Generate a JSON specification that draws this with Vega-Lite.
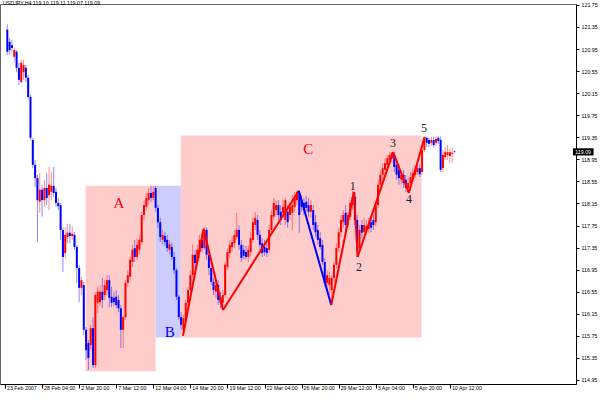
{
  "$schema": "https://vega.github.io/schema/vega-lite/v6.json",
  "width": 576,
  "height": 380,
  "autosize": {"type": "none"},
  "padding": {"left": 0, "top": 4, "right": 24, "bottom": 16},
  "background": "white",
  "title": {"text": "USDJPY,H4 119.10 119.11 119.07 119.09", "anchor": "start", "orient": "top", "frame": "group", "offset": 0, "dy": 7.5, "dx": 3, "baseline": "alphabetic", "fontSize": 5.3, "font": "Liberation Sans", "fontWeight": "normal", "color": "#000"},
  "config": {
    "view": {"stroke": "#666"},
    "axis": {"labelFont": "Liberation Sans", "labelFontSize": 5.3, "labelColor": "#000", "tickColor": "#000", "domainColor": "#000", "grid": false, "labelOverlap": false, "labelFlush": false, "labelBound": false}
  },
  "resolve": {"scale": {"color": "independent"}},
  "datasets": {
    "candles": [
      {"i":1,"o":121.30,"h":121.40,"l":120.84,"c":120.90},
      {"i":2,"o":121.08,"h":121.15,"l":120.84,"c":120.93},
      {"i":3,"o":121.02,"h":121.11,"l":120.90,"c":120.97},
      {"i":4,"o":120.81,"h":120.97,"l":120.72,"c":120.93},
      {"i":5,"o":120.90,"h":120.93,"l":120.53,"c":120.61},
      {"i":6,"o":120.61,"h":120.70,"l":120.30,"c":120.39},
      {"i":7,"o":120.35,"h":120.75,"l":120.35,"c":120.70},
      {"i":8,"o":120.53,"h":120.75,"l":120.39,"c":120.66},
      {"i":9,"o":120.61,"h":120.66,"l":120.35,"c":120.43},
      {"i":10,"o":120.43,"h":120.48,"l":120.04,"c":120.08},
      {"i":11,"o":120.08,"h":120.12,"l":119.30,"c":119.34},
      {"i":12,"o":119.30,"h":119.34,"l":118.79,"c":118.85},
      {"i":13,"o":118.85,"h":118.94,"l":118.45,"c":118.61},
      {"i":14,"o":118.61,"h":118.67,"l":117.45,"c":118.21},
      {"i":15,"o":118.18,"h":118.70,"l":117.98,"c":118.40},
      {"i":16,"o":118.40,"h":118.49,"l":117.91,"c":118.21},
      {"i":17,"o":118.21,"h":118.58,"l":118.09,"c":118.43},
      {"i":18,"o":118.43,"h":118.70,"l":118.12,"c":118.25},
      {"i":19,"o":118.30,"h":118.81,"l":118.03,"c":118.49},
      {"i":20,"o":118.36,"h":118.72,"l":118.21,"c":118.47},
      {"i":21,"o":118.47,"h":118.81,"l":118.27,"c":118.34},
      {"i":22,"o":118.36,"h":118.43,"l":118.09,"c":118.16},
      {"i":23,"o":118.16,"h":118.25,"l":118.03,"c":118.10},
      {"i":24,"o":118.12,"h":118.16,"l":117.49,"c":117.67},
      {"i":25,"o":117.67,"h":117.71,"l":116.91,"c":117.18},
      {"i":26,"o":117.25,"h":117.72,"l":117.16,"c":117.58},
      {"i":27,"o":117.54,"h":117.78,"l":117.43,"c":117.62},
      {"i":28,"o":117.62,"h":117.78,"l":117.43,"c":117.56},
      {"i":29,"o":117.56,"h":117.74,"l":117.49,"c":117.60},
      {"i":30,"o":117.58,"h":117.63,"l":117.31,"c":117.36},
      {"i":31,"o":117.36,"h":117.40,"l":116.71,"c":116.98},
      {"i":32,"o":116.98,"h":117.04,"l":116.36,"c":116.62},
      {"i":33,"o":116.62,"h":116.82,"l":116.49,"c":116.76},
      {"i":34,"o":116.67,"h":116.73,"l":115.77,"c":115.86},
      {"i":35,"o":115.86,"h":115.91,"l":115.31,"c":115.49},
      {"i":36,"o":115.62,"h":115.68,"l":115.13,"c":115.35},
      {"i":37,"o":115.58,"h":115.95,"l":115.49,"c":115.89},
      {"i":38,"o":115.89,"h":116.09,"l":115.17,"c":115.22},
      {"i":39,"o":115.22,"h":116.53,"l":115.17,"c":116.49},
      {"i":40,"o":116.35,"h":116.64,"l":116.16,"c":116.55},
      {"i":41,"o":116.36,"h":116.67,"l":116.29,"c":116.55},
      {"i":42,"o":116.55,"h":116.80,"l":116.25,"c":116.40},
      {"i":43,"o":116.49,"h":116.76,"l":116.40,"c":116.67},
      {"i":44,"o":116.58,"h":116.85,"l":116.49,"c":116.76},
      {"i":45,"o":116.76,"h":116.85,"l":116.27,"c":116.44},
      {"i":46,"o":116.46,"h":116.64,"l":116.27,"c":116.35},
      {"i":47,"o":116.44,"h":116.55,"l":116.29,"c":116.36},
      {"i":48,"o":116.46,"h":116.58,"l":116.25,"c":116.31},
      {"i":49,"o":116.40,"h":116.49,"l":116.18,"c":116.25},
      {"i":50,"o":116.25,"h":116.31,"l":115.53,"c":115.86},
      {"i":51,"o":115.86,"h":116.13,"l":115.53,"c":116.09},
      {"i":52,"o":116.09,"h":116.76,"l":116.04,"c":116.71},
      {"i":53,"o":116.71,"h":116.94,"l":116.64,"c":116.85},
      {"i":54,"o":116.82,"h":117.18,"l":116.76,"c":117.13},
      {"i":55,"o":117.09,"h":117.40,"l":117.00,"c":117.31},
      {"i":56,"o":117.34,"h":117.49,"l":117.09,"c":117.18},
      {"i":57,"o":117.18,"h":117.52,"l":117.13,"c":117.40},
      {"i":58,"o":117.31,"h":117.58,"l":117.22,"c":117.49},
      {"i":59,"o":117.45,"h":118.00,"l":117.40,"c":117.94},
      {"i":60,"o":117.94,"h":118.21,"l":117.85,"c":118.12},
      {"i":61,"o":118.09,"h":118.34,"l":118.03,"c":118.25},
      {"i":62,"o":118.21,"h":118.43,"l":118.12,"c":118.34},
      {"i":63,"o":118.34,"h":118.47,"l":118.18,"c":118.25},
      {"i":64,"o":118.25,"h":118.47,"l":118.21,"c":118.36},
      {"i":65,"o":118.43,"h":118.47,"l":118.00,"c":118.07},
      {"i":66,"o":118.07,"h":118.12,"l":117.71,"c":117.81},
      {"i":67,"o":117.81,"h":117.89,"l":117.45,"c":117.54},
      {"i":68,"o":117.49,"h":117.67,"l":117.41,"c":117.58},
      {"i":69,"o":117.56,"h":117.63,"l":117.38,"c":117.45},
      {"i":70,"o":117.49,"h":117.58,"l":117.27,"c":117.34},
      {"i":71,"o":117.31,"h":117.49,"l":117.23,"c":117.41},
      {"i":72,"o":117.36,"h":117.43,"l":117.13,"c":117.18},
      {"i":73,"o":117.18,"h":117.27,"l":116.87,"c":116.94},
      {"i":74,"o":116.94,"h":116.98,"l":116.40,"c":116.46},
      {"i":75,"o":116.46,"h":116.49,"l":116.04,"c":116.09},
      {"i":76,"o":116.09,"h":116.18,"l":115.86,"c":115.95},
      {"i":77,"o":115.86,"h":116.13,"l":115.75,"c":116.07},
      {"i":78,"o":116.04,"h":116.40,"l":115.95,"c":116.35},
      {"i":79,"o":116.35,"h":116.64,"l":116.25,"c":116.58},
      {"i":80,"o":116.58,"h":116.94,"l":116.53,"c":116.85},
      {"i":81,"o":116.85,"h":117.40,"l":116.80,"c":117.22},
      {"i":82,"o":117.22,"h":117.31,"l":116.98,"c":117.07},
      {"i":83,"o":117.09,"h":117.40,"l":117.04,"c":117.31},
      {"i":84,"o":117.27,"h":117.58,"l":117.16,"c":117.49},
      {"i":85,"o":117.49,"h":117.62,"l":117.27,"c":117.34},
      {"i":86,"o":117.34,"h":117.72,"l":117.31,"c":117.67},
      {"i":87,"o":117.67,"h":117.71,"l":117.13,"c":117.22},
      {"i":88,"o":117.22,"h":117.31,"l":116.85,"c":116.98},
      {"i":89,"o":116.98,"h":117.09,"l":116.67,"c":116.73},
      {"i":90,"o":116.73,"h":116.80,"l":116.49,"c":116.58},
      {"i":91,"o":116.55,"h":116.76,"l":116.44,"c":116.67},
      {"i":92,"o":116.67,"h":116.76,"l":116.31,"c":116.40},
      {"i":93,"o":116.44,"h":116.55,"l":116.25,"c":116.35},
      {"i":94,"o":116.35,"h":116.58,"l":116.22,"c":116.49},
      {"i":95,"o":116.49,"h":117.09,"l":116.44,"c":117.04},
      {"i":96,"o":117.00,"h":117.34,"l":116.94,"c":117.27},
      {"i":97,"o":117.25,"h":117.49,"l":117.16,"c":117.40},
      {"i":98,"o":117.36,"h":117.56,"l":117.27,"c":117.45},
      {"i":99,"o":117.43,"h":117.67,"l":117.34,"c":117.58},
      {"i":100,"o":117.54,"h":117.98,"l":117.49,"c":117.67},
      {"i":101,"o":117.67,"h":117.76,"l":117.31,"c":117.40},
      {"i":102,"o":117.40,"h":117.49,"l":117.09,"c":117.16},
      {"i":103,"o":117.31,"h":117.40,"l":117.13,"c":117.20},
      {"i":104,"o":117.27,"h":117.38,"l":117.13,"c":117.18},
      {"i":105,"o":117.18,"h":117.40,"l":117.09,"c":117.31},
      {"i":106,"o":117.27,"h":117.63,"l":117.20,"c":117.52},
      {"i":107,"o":117.49,"h":117.89,"l":117.43,"c":117.81},
      {"i":108,"o":117.76,"h":118.00,"l":117.67,"c":117.89},
      {"i":109,"o":117.85,"h":117.94,"l":117.49,"c":117.58},
      {"i":110,"o":117.58,"h":117.67,"l":117.31,"c":117.40},
      {"i":111,"o":117.43,"h":117.52,"l":117.18,"c":117.25},
      {"i":112,"o":117.36,"h":117.49,"l":117.20,"c":117.27},
      {"i":113,"o":117.34,"h":117.43,"l":117.18,"c":117.25},
      {"i":114,"o":117.31,"h":117.76,"l":117.25,"c":117.67},
      {"i":115,"o":117.67,"h":118.03,"l":117.62,"c":117.94},
      {"i":116,"o":117.91,"h":118.25,"l":117.85,"c":118.16},
      {"i":117,"o":118.03,"h":118.21,"l":117.94,"c":118.12},
      {"i":118,"o":118.12,"h":118.21,"l":117.85,"c":117.94},
      {"i":119,"o":118.00,"h":118.12,"l":117.76,"c":117.85},
      {"i":120,"o":117.98,"h":118.21,"l":117.89,"c":118.09},
      {"i":121,"o":117.85,"h":118.25,"l":117.76,"c":118.21},
      {"i":122,"o":118.00,"h":118.12,"l":117.71,"c":117.81},
      {"i":123,"o":117.94,"h":118.18,"l":117.85,"c":118.09},
      {"i":124,"o":117.98,"h":118.30,"l":117.67,"c":118.12},
      {"i":125,"o":118.09,"h":118.36,"l":118.00,"c":118.25},
      {"i":126,"o":118.21,"h":118.38,"l":118.12,"c":118.36},
      {"i":127,"o":118.34,"h":118.38,"l":117.62,"c":117.94},
      {"i":128,"o":118.21,"h":118.30,"l":118.00,"c":118.09},
      {"i":129,"o":118.16,"h":118.25,"l":117.94,"c":118.03},
      {"i":130,"o":118.18,"h":118.29,"l":118.00,"c":118.07},
      {"i":131,"o":118.12,"h":118.25,"l":117.91,"c":118.00},
      {"i":132,"o":118.00,"h":118.21,"l":117.89,"c":118.12},
      {"i":133,"o":118.03,"h":118.12,"l":117.67,"c":117.76},
      {"i":134,"o":117.81,"h":117.94,"l":117.54,"c":117.63},
      {"i":135,"o":117.67,"h":117.76,"l":117.40,"c":117.49},
      {"i":136,"o":117.52,"h":117.63,"l":117.31,"c":117.36},
      {"i":137,"o":117.40,"h":117.49,"l":117.04,"c":117.09},
      {"i":138,"o":117.09,"h":117.16,"l":116.64,"c":116.71},
      {"i":139,"o":116.71,"h":116.94,"l":116.58,"c":116.85},
      {"i":140,"o":116.67,"h":116.91,"l":116.49,"c":116.80},
      {"i":141,"o":116.58,"h":116.85,"l":116.31,"c":116.80},
      {"i":142,"o":116.80,"h":117.09,"l":116.73,"c":117.04},
      {"i":143,"o":117.04,"h":117.43,"l":116.98,"c":117.34},
      {"i":144,"o":117.34,"h":117.71,"l":117.27,"c":117.63},
      {"i":145,"o":117.63,"h":117.94,"l":117.54,"c":117.85},
      {"i":146,"o":117.81,"h":118.03,"l":117.71,"c":117.94},
      {"i":147,"o":117.98,"h":118.12,"l":117.67,"c":117.76},
      {"i":148,"o":117.76,"h":118.00,"l":117.71,"c":117.94},
      {"i":149,"o":117.91,"h":118.21,"l":117.85,"c":118.16},
      {"i":150,"o":118.12,"h":118.38,"l":118.03,"c":118.27},
      {"i":151,"o":118.27,"h":118.36,"l":117.76,"c":117.85},
      {"i":152,"o":117.85,"h":117.94,"l":117.18,"c":117.31},
      {"i":153,"o":117.34,"h":117.76,"l":117.27,"c":117.67},
      {"i":154,"o":117.76,"h":117.85,"l":117.52,"c":117.62},
      {"i":155,"o":117.63,"h":117.89,"l":117.56,"c":117.76},
      {"i":156,"o":117.67,"h":117.85,"l":117.58,"c":117.74},
      {"i":157,"o":117.69,"h":117.89,"l":117.62,"c":117.78},
      {"i":158,"o":117.81,"h":117.91,"l":117.63,"c":117.71},
      {"i":159,"o":117.85,"h":117.94,"l":117.67,"c":117.76},
      {"i":160,"o":117.81,"h":118.18,"l":117.74,"c":118.12},
      {"i":161,"o":118.12,"h":118.58,"l":118.07,"c":118.49},
      {"i":162,"o":118.49,"h":118.76,"l":118.40,"c":118.67},
      {"i":163,"o":118.67,"h":118.88,"l":118.58,"c":118.79},
      {"i":164,"o":118.76,"h":118.97,"l":118.67,"c":118.88},
      {"i":165,"o":118.85,"h":119.03,"l":118.76,"c":118.97},
      {"i":166,"o":118.94,"h":119.08,"l":118.85,"c":119.03},
      {"i":167,"o":118.97,"h":119.08,"l":118.88,"c":119.07},
      {"i":168,"o":119.03,"h":119.08,"l":118.72,"c":118.81},
      {"i":169,"o":118.85,"h":118.94,"l":118.58,"c":118.67},
      {"i":170,"o":118.76,"h":118.85,"l":118.49,"c":118.61},
      {"i":171,"o":118.58,"h":118.76,"l":118.49,"c":118.67},
      {"i":172,"o":118.67,"h":118.76,"l":118.43,"c":118.52},
      {"i":173,"o":118.58,"h":118.67,"l":118.36,"c":118.43},
      {"i":174,"o":118.43,"h":118.61,"l":118.34,"c":118.52},
      {"i":175,"o":118.52,"h":118.72,"l":118.43,"c":118.63},
      {"i":176,"o":118.61,"h":118.79,"l":118.54,"c":118.70},
      {"i":177,"o":118.67,"h":118.85,"l":118.61,"c":118.76},
      {"i":178,"o":118.72,"h":118.88,"l":118.67,"c":118.79},
      {"i":179,"o":118.79,"h":118.85,"l":118.63,"c":118.68},
      {"i":180,"o":118.72,"h":119.17,"l":118.67,"c":119.12},
      {"i":181,"o":119.12,"h":119.36,"l":119.08,"c":119.34},
      {"i":182,"o":119.34,"h":119.36,"l":119.17,"c":119.25},
      {"i":183,"o":119.30,"h":119.34,"l":119.17,"c":119.23},
      {"i":184,"o":119.25,"h":119.36,"l":119.19,"c":119.30},
      {"i":185,"o":119.30,"h":119.36,"l":119.16,"c":119.21},
      {"i":186,"o":119.25,"h":119.36,"l":119.19,"c":119.32},
      {"i":187,"o":119.34,"h":119.37,"l":119.23,"c":119.28},
      {"i":188,"o":119.30,"h":119.36,"l":118.72,"c":118.76},
      {"i":189,"o":118.79,"h":119.12,"l":118.72,"c":119.03},
      {"i":190,"o":118.99,"h":119.17,"l":118.94,"c":119.08},
      {"i":191,"o":119.03,"h":119.21,"l":118.94,"c":119.08},
      {"i":192,"o":119.01,"h":119.14,"l":118.88,"c":119.08},
      {"i":193,"o":119.05,"h":119.16,"l":118.90,"c":119.07},
      {"i":194,"o":119.10,"h":119.11,"l":119.07,"c":119.09}
    ]
  },
  "layer": [
    {
      "data": {"values": [
        {"i": 34.8, "i2": 65.0, "p": 118.47, "p2": 115.11, "z": "A"},
        {"i": 65.0, "i2": 75.9, "p": 118.47, "p2": 115.72, "z": "B"},
        {"i": 75.9, "i2": 179.8, "p": 119.38, "p2": 115.72, "z": "C"}
      ]},
      "mark": {"type": "rect"},
      "encoding": {
        "x": {"field": "i", "type": "quantitative", "title": null, "scale": {"domain": [0, 244.27], "nice": false, "zero": false},
              "axis": {"orient": "bottom", "values": [0,16,32,48,64,80,96,112,128,144,160,176,192], "labelExpr": "['23 Feb 2007','28 Feb 04:00','2 Mar 20:00','7 Mar 12:00','12 Mar 04:00','14 Mar 20:00','19 Mar 12:00','22 Mar 04:00','26 Mar 20:00','29 Mar 12:00','3 Apr 04:00','5 Apr 20:00','10 Apr 12:00'][round(datum.value/16)]", "labelAlign": "left", "labelBaseline": "top", "tickSize": 4, "labelPadding": -3, "labelOffset": 1.5, "labelOverlap": false, "tickCount": 40, "title": null}},
        "x2": {"field": "i2"},
        "y": {"field": "p", "type": "quantitative", "title": null, "scale": {"domain": [114.877, 121.766], "nice": false, "zero": false},
              "axis": {"orient": "right", "values": [114.95,115.35,115.75,116.15,116.55,116.95,117.35,117.75,118.15,118.55,118.95,119.35,119.75,120.15,120.55,120.95,121.35,121.75], "format": ".2f", "tickSize": 3, "labelPadding": 2, "labelBaseline": "middle", "labelOverlap": false, "tickCount": 40, "title": null}},
        "y2": {"field": "p2"},
        "color": {"field": "z", "type": "nominal", "legend": null, "scale": {"domain": ["A","B","C"], "range": ["#FFCCCC","#CCCCFF","#FFCCCC"]}}
      }
    },
    {
      "data": {"name": "candles"},
      "mark": {"type": "rule", "strokeWidth": 1, "opacity": 0.45},
      "encoding": {
        "x": {"field": "i", "type": "quantitative", "title": null, "scale": {"domain": [0, 244.27], "nice": false, "zero": false}},
        "y": {"field": "l", "type": "quantitative", "title": null, "scale": {"domain": [114.877, 121.766], "nice": false, "zero": false}},
        "y2": {"field": "h"},
        "color": {"condition": {"test": "datum.c >= datum.o", "value": "#FF0000"}, "value": "#0000FF"}
      }
    },
    {
      "data": {"name": "candles"},
      "mark": {"type": "bar", "width": 2},
      "encoding": {
        "x": {"field": "i", "type": "quantitative", "title": null, "scale": {"domain": [0, 244.27], "nice": false, "zero": false}},
        "y": {"field": "o", "type": "quantitative", "title": null, "scale": {"domain": [114.877, 121.766], "nice": false, "zero": false}},
        "y2": {"field": "c"},
        "color": {"condition": {"test": "datum.c >= datum.o", "value": "#FF0000"}, "value": "#0000FF"}
      }
    },
    {
      "data": {"values": [
        {"i": 76.8, "p": 115.75, "i2": 85.7, "p2": 117.69, "s": "main"},
        {"i": 85.7, "p": 117.69, "i2": 94.1, "p2": 116.22, "s": "main"},
        {"i": 94.1, "p": 116.22, "i2": 126.8, "p2": 118.38, "s": "main"},
        {"i": 126.8, "p": 118.38, "i2": 140.8, "p2": 116.31, "s": "corr"},
        {"i": 140.8, "p": 116.31, "i2": 150.6, "p2": 118.36, "s": "main"},
        {"i": 150.6, "p": 118.36, "i2": 152.2, "p2": 117.18, "s": "main"},
        {"i": 152.2, "p": 117.18, "i2": 167.5, "p2": 119.08, "s": "main"},
        {"i": 167.5, "p": 119.08, "i2": 174.3, "p2": 118.34, "s": "main"},
        {"i": 174.3, "p": 118.34, "i2": 181.1, "p2": 119.36, "s": "main"}
      ]},
      "mark": {"type": "rule", "strokeWidth": 2},
      "encoding": {
        "x": {"field": "i", "type": "quantitative", "title": null, "scale": {"domain": [0, 244.27], "nice": false, "zero": false}},
        "x2": {"field": "i2"},
        "y": {"field": "p", "type": "quantitative", "title": null, "scale": {"domain": [114.877, 121.766], "nice": false, "zero": false}},
        "y2": {"field": "p2"},
        "color": {"field": "s", "type": "nominal", "legend": null, "scale": {"domain": ["main","corr"], "range": ["#FF0000","#0000FF"]}}
      }
    },
    {
      "data": {"values": [
        {"i": 49.2, "p": 118.15, "t": "A"},
        {"i": 71.1, "p": 115.82, "t": "B"},
        {"i": 130.9, "p": 119.14, "t": "C"}
      ]},
      "mark": {"type": "text", "font": "Liberation Serif", "fontSize": 15, "baseline": "middle", "align": "center"},
      "encoding": {
        "x": {"field": "i", "type": "quantitative", "title": null, "scale": {"domain": [0, 244.27], "nice": false, "zero": false}},
        "y": {"field": "p", "type": "quantitative", "title": null, "scale": {"domain": [114.877, 121.766], "nice": false, "zero": false}},
        "text": {"field": "t"},
        "color": {"field": "t", "type": "nominal", "legend": null, "scale": {"domain": ["A","B","C"], "range": ["#FF0000","#0000FF","#FF0000"]}}
      }
    },
    {
      "data": {"values": [
        {"i": 150.1, "p": 118.47, "t": "1"},
        {"i": 152.8, "p": 116.99, "t": "2"},
        {"i": 167.5, "p": 119.25, "t": "3"},
        {"i": 174.4, "p": 118.23, "t": "4"},
        {"i": 180.8, "p": 119.52, "t": "5"}
      ]},
      "mark": {"type": "text", "font": "Liberation Serif", "fontSize": 12, "baseline": "middle", "align": "center", "color": "#222222"},
      "encoding": {
        "x": {"field": "i", "type": "quantitative", "title": null, "scale": {"domain": [0, 244.27], "nice": false, "zero": false}},
        "y": {"field": "p", "type": "quantitative", "title": null, "scale": {"domain": [114.877, 121.766], "nice": false, "zero": false}},
        "text": {"field": "t"}
      }
    },
    {
      "data": {"values": [{"i": 245.1, "i2": 254.0, "p": 119.02, "p2": 119.15}]},
      "mark": {"type": "rect", "color": "#000000"},
      "encoding": {
        "x": {"field": "i", "type": "quantitative", "title": null, "scale": {"domain": [0, 244.27], "nice": false, "zero": false}},
        "x2": {"field": "i2"},
        "y": {"field": "p", "type": "quantitative", "title": null, "scale": {"domain": [114.877, 121.766], "nice": false, "zero": false}},
        "y2": {"field": "p2"}
      }
    },
    {
      "data": {"values": [{"i": 249.5, "p": 119.085, "t": "119.09"}]},
      "mark": {"type": "text", "font": "Liberation Sans", "fontSize": 5.3, "baseline": "middle", "align": "center", "color": "#FFFFFF"},
      "encoding": {
        "x": {"field": "i", "type": "quantitative", "title": null, "scale": {"domain": [0, 244.27], "nice": false, "zero": false}},
        "y": {"field": "p", "type": "quantitative", "title": null, "scale": {"domain": [114.877, 121.766], "nice": false, "zero": false}},
        "text": {"field": "t"}
      }
    }
  ]
}
